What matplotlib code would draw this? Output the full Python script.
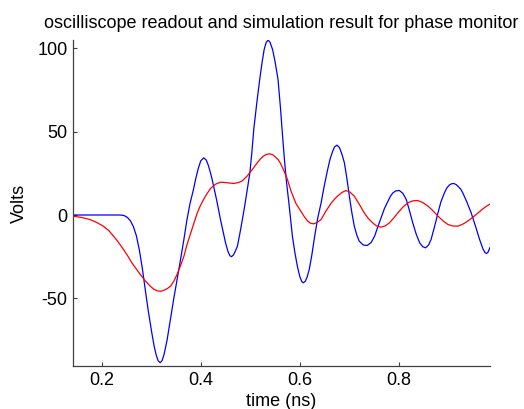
import matplotlib
matplotlib.use("Agg")
import matplotlib.pyplot as plt

plt.rcParams['font.family'] = ['Liberation Sans', 'DejaVu Sans']

title = "oscilliscope readout and simulation result for phase monitor"
xlabel = "time (ns)"
ylabel = "Volts"
xticks = [0.2, 0.4, 0.6, 0.8]
yticks = [-50, 0, 50, 100]

# oscilloscope readout (blue)
t_blue = [0.142, 0.237, 0.245, 0.252, 0.258, 0.264, 0.270, 0.276, 0.282, 0.288,
          0.294, 0.301, 0.306, 0.310, 0.314, 0.318, 0.322, 0.326, 0.332, 0.338,
          0.345, 0.352, 0.359, 0.366, 0.372, 0.378, 0.385, 0.390, 0.395, 0.400,
          0.406, 0.411, 0.415, 0.419, 0.423, 0.428, 0.432, 0.436, 0.440, 0.445,
          0.450, 0.455, 0.459, 0.462, 0.466, 0.470, 0.474, 0.479, 0.484, 0.489,
          0.494, 0.499, 0.503, 0.507, 0.513, 0.519, 0.524, 0.528, 0.532, 0.536,
          0.540, 0.545, 0.550, 0.556, 0.561, 0.565, 0.569, 0.573, 0.578, 0.585,
          0.590, 0.595, 0.600, 0.604, 0.607, 0.611, 0.615, 0.619, 0.624, 0.630,
          0.636, 0.643, 0.649, 0.656, 0.661, 0.666, 0.670, 0.675, 0.680, 0.685,
          0.690, 0.695, 0.700, 0.705, 0.710, 0.715, 0.720, 0.728, 0.736, 0.744,
          0.751, 0.757, 0.764, 0.771, 0.778, 0.783, 0.788, 0.794, 0.801, 0.808,
          0.815, 0.821, 0.828, 0.835, 0.842, 0.848, 0.854, 0.860, 0.865, 0.872,
          0.879, 0.885, 0.892, 0.897, 0.902, 0.906, 0.911, 0.916, 0.920, 0.925,
          0.929, 0.937, 0.946, 0.955, 0.963, 0.970, 0.974, 0.977, 0.980, 0.984]
v_blue = [0, 0, -0.3, -1.5, -3.5, -7, -12.5, -21, -32, -45,
          -57.5, -70.5, -79, -84, -87.5, -88.6, -87.3, -83.5, -75, -64,
          -51, -39, -27, -14.5, -3, 6.5, 15, 22, 28, 32.5,
          34.3, 33, 30, 26, 21.3, 14.5, 9, 3, -3, -10,
          -16.7, -22, -24.5, -25, -24, -21.5, -18.7, -11, -2.7, 6,
          15.3, 25, 37, 51.3, 67, 81.3, 92, 99.3, 103.5, 105,
          103.5, 99.3, 92, 81.3, 64, 48, 33, 20, 7, -12.7,
          -22.5, -30.7, -37, -40, -40.7, -39.8, -37, -32.7, -24.5, -12.7,
          -2, 7.3, 17, 27, 33.5, 38, 40.8, 41.9, 40.5, 36.5,
          31.3, 22, 11.3, 1.5, -6.7, -12, -15.7, -18, -18.3, -16.5,
          -12.7, -7.5, -1.7, 4, 8.3, 11.3, 13.3, 14.5, 14.7, 13,
          9.3, 3, -4.7, -11.5, -16.7, -19, -19.7, -18, -14.7, -7,
          1.3, 8, 13.3, 16.3, 18, 18.7, 18.9, 18.2, 17, 15.5,
          13.3, 8, 1.3, -7, -14.7, -20.5, -22.6, -23.1, -22.3, -19.5]

# simulation result (red)
t_red = [0.142, 0.160, 0.176, 0.190, 0.203, 0.214, 0.224, 0.234, 0.244, 0.253,
         0.261, 0.270, 0.278, 0.288, 0.298, 0.305, 0.312, 0.320, 0.327, 0.333,
         0.339, 0.346, 0.352, 0.359, 0.366, 0.372, 0.379, 0.386, 0.392, 0.399,
         0.406, 0.413, 0.420, 0.430, 0.440, 0.455, 0.467, 0.476, 0.484, 0.494,
         0.504, 0.514, 0.520, 0.526, 0.532, 0.539, 0.545, 0.550, 0.556, 0.561,
         0.568, 0.575, 0.582, 0.592, 0.602, 0.609, 0.616, 0.622, 0.628, 0.635,
         0.643, 0.653, 0.663, 0.670, 0.676, 0.685, 0.693, 0.701, 0.710, 0.720,
         0.730, 0.738, 0.747, 0.755, 0.764, 0.772, 0.781, 0.789, 0.798, 0.808,
         0.818, 0.828, 0.838, 0.848, 0.859, 0.869, 0.879, 0.889, 0.899, 0.909,
         0.919, 0.929, 0.939, 0.950, 0.960, 0.968, 0.977, 0.984]
v_red = [-0.7, -1.5, -2.7, -4.5, -6.7, -9.3, -12.7, -16.5, -20.7, -24.8,
         -28.7, -32.5, -35.7, -39.5, -42.7, -44.5, -45.5, -45.7, -45, -44,
         -42.7, -39.5, -35.7, -30.5, -24.7, -18, -11.5, -5, 0.5, 5.5,
         9.5, 13, 16, 18.5, 19.7, 19.3, 18.9, 19.5, 20.5, 23.5,
         27.3, 31.3, 33.5, 35.2, 36.3, 36.7, 36.2, 35, 33.3, 31,
         26.5, 21.3, 14.5, 7, 2.3, -1, -3.7, -5, -5.3, -4.5,
         -2.7, 2.5, 7, 9.5, 11.3, 13.5, 14.7, 13.8, 11.3, 6.5,
         1.3, -2, -4.7, -6.6, -7.3, -6.6, -4.7, -2, 1.3, 4.7,
         7.3, 8.5, 8.7, 7.5, 5.3, 2.5, -0.7, -3.5, -5.7, -6.6,
         -6.7, -5.5, -3.7, -1.2, 1.3, 3.3, 5.3, 6.5]

fig = plt.figure(figsize=(5.24, 4.09), dpi=100)
ax = fig.add_axes([73/524, 43/409, 417/524, 326/409])

ax.plot(t_blue, v_blue, color=(0, 0, 1), lw=0.9)
ax.plot(t_red, v_red, color=(1, 0, 0), lw=0.9)

ax.set_xlim(min(t_blue), max(t_blue))
ax.set_ylim(min(v_blue) - 2, max(v_blue))
ax.set_xticks(xticks)
ax.set_xticklabels([f"{x:g}" for x in xticks])
ax.set_yticks(yticks)
ax.set_yticklabels([f"{y:g}" for y in yticks])

for s in ['top', 'right']:
    ax.spines[s].set_visible(False)
for s in ['left', 'bottom']:
    ax.spines[s].set_color('#404040')
    ax.spines[s].set_linewidth(0.9)

fs = 13
ax.tick_params(direction='in', length=3, width=0.8, color='#404040',
               labelsize=fs, labelcolor='black')
ax.tick_params(axis='x', pad=4)
ax.tick_params(axis='y', pad=4)

ax.set_title(title, fontsize=fs, pad=9)
ax.set_xlabel(xlabel, fontsize=fs, labelpad=3)
ax.set_ylabel(ylabel, fontsize=fs, labelpad=7)

fig.savefig("out.png", dpi=100)
